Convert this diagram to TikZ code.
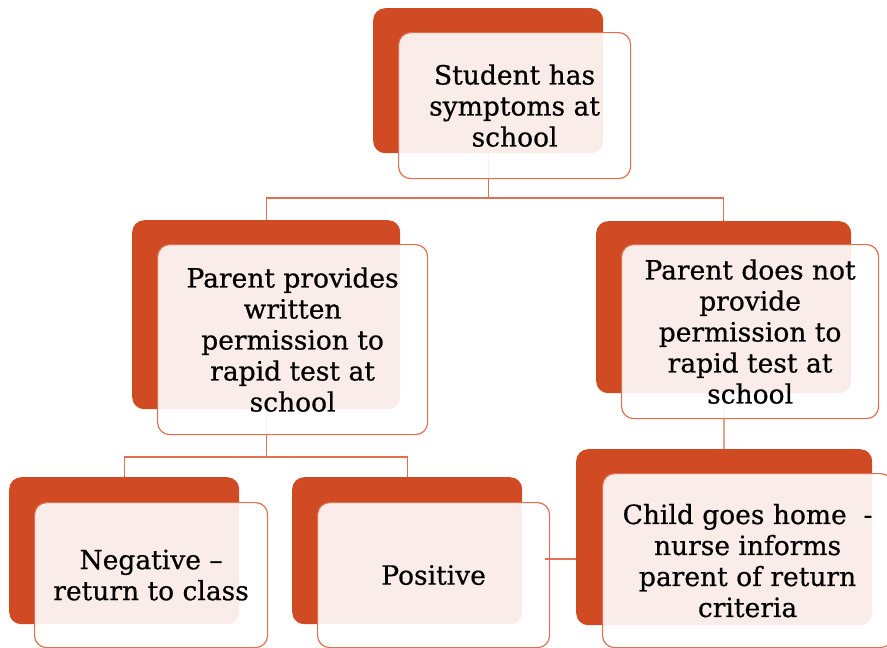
\documentclass[tikz,border=0pt]{standalone}
\usepackage{fontspec}
\setmainfont{DejaVu Serif}[FakeBold=0.6]
\definecolor{boxred}{RGB}{208,74,36}
\definecolor{edgered}{RGB}{224,112,80}
\pgfdeclarelayer{bg}
\pgfsetlayers{bg,main}
\begin{document}
\begin{tikzpicture}[x=1pt,y=-1pt,
  backbox/.style={rectangle,rounded corners=12pt,fill=boxred,inner sep=0pt,anchor=north west},
  frontbox/.style={rectangle,rounded corners=12pt,draw=edgered,line width=1.2pt,fill=white,fill opacity=0.9,text opacity=1,inner sep=0pt,anchor=north west,align=center,font=\fontsize{26.5}{31}\selectfont},
  conn/.style={draw=edgered,line width=1.2pt}]
\useasboundingbox (0,0) rectangle (887,648);
% top
\node[backbox,minimum width=230pt,minimum height=145pt] (tB) at (373,8) {};
\node[frontbox,minimum width=232pt,minimum height=146pt] (tF) at (398,32) {Student has\\symptoms at\\school};
% left mid
\node[backbox,minimum width=268pt,minimum height=189pt] (lB) at (132,220) {};
\node[frontbox,minimum width=270pt,minimum height=190pt] (lF) at (157,244) {Parent provides\\written\\permission to\\rapid test at\\school};
% right mid
\node[backbox,minimum width=255pt,minimum height=172pt] (rB) at (596,221) {};
\node[frontbox,minimum width=257pt,minimum height=174pt] (rF) at (621,244) {Parent does not\\provide\\permission to\\rapid test at\\school};
% bottom left
\node[backbox,minimum width=230pt,minimum height=147pt] (nB) at (9,477) {};
\node[frontbox,minimum width=233pt,minimum height=145pt] (nF) at (34,502) {Negative --\\return to class};
% bottom middle
\node[backbox,minimum width=230pt,minimum height=147pt] (pB) at (292,477) {};
\node[frontbox,minimum width=232pt,minimum height=145pt] (pF) at (317,502) {Positive};
% bottom right
\node[backbox,minimum width=296pt,minimum height=176pt] (cB) at (576,449) {};
\node[frontbox,minimum width=290pt,minimum height=174pt] (cF) at (602,473) {Child goes home\ \ -\\nurse informs\\parent of return\\criteria};
% connectors
\coordinate (h1) at (0,198);
\coordinate (h2) at (0,457);
\coordinate (h3) at (0,559);
\begin{pgfonlayer}{bg}
\draw[conn] (tB.center) -- (tB.center |- h1) -| (lB.center);
\draw[conn] (tB.center |- h1) -| (rB.center);
\draw[conn] (lB.center) -- (lB.center |- h2) -| (nB.center);
\draw[conn] (lB.center |- h2) -| (pB.center);
\draw[conn] (rB.center) -- (cB.center);
\end{pgfonlayer}
\draw[conn] ([xshift=-5pt]pF.east |- h3) -- (cB.west |- h3);
\end{tikzpicture}
\end{document}
